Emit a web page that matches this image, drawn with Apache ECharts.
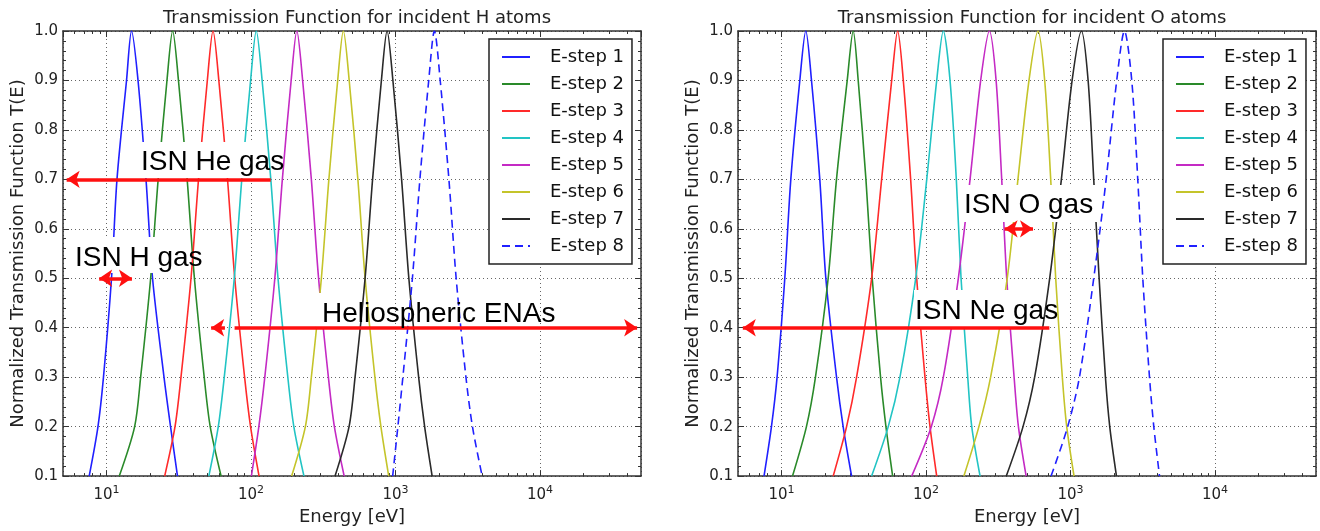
<!DOCTYPE html>
<html>
<head>
<meta charset="utf-8">
<script src="https://cdn.jsdelivr.net/npm/echarts@6/dist/echarts.min.js"></script>
<style>
  html, body { margin: 0; padding: 0; background: #fff; }
  #chart { width: 1320px; height: 531px; }
</style>
</head>
<body>
<div id="chart"></div>
<script>
// transmission levels shared by every curve (rise, peak, fall)
var tLevels = [0.1, 0.2, 0.3, 0.5, 0.7, 0.9, 1.0, 0.9, 0.7, 0.5, 0.3, 0.2, 0.1];

// energies [eV] where each E-step curve crosses tLevels, incident H atoms
var hStep1 = [7.59, 8.73, 9.53, 10.83, 11.82, 13.76, 14.9, 16.53, 18.77, 20.83, 25.0, 27.75, 31.0];
var hStep2 = [12.26, 15.66, 17.23, 20.21, 22.78, 26.21, 28.7, 31.48, 36.16, 40.58, 47.44, 52.21, 62.1];
var hStep3 = [25.27, 29.79, 32.77, 38.45, 43.33, 49.86, 54.6, 59.9, 68.8, 77.2, 90.3, 99.3, 113.7];
var hStep4 = [51.08, 59.36, 65.31, 76.62, 86.35, 99.36, 108.8, 119.4, 137.1, 153.8, 179.8, 197.9, 232.5];
var hStep5 = [100.6, 113.3, 124.6, 146.2, 164.8, 189.6, 207.6, 227.7, 261.6, 293.5, 343.2, 377.6, 441.4];
var hStep6 = [191.1, 237.8, 261.6, 306.9, 345.9, 398.0, 435.8, 478.1, 549.1, 616.2, 720.4, 792.7, 897.7];
var hStep7 = [381.6, 477.1, 525.0, 615.9, 694.1, 798.7, 874.6, 959.4, 1102, 1237, 1446, 1591, 1793];
var hStep8 = [955.8, 1038.5, 1124.6, 1309, 1475, 1698, 1859, 2039, 2342, 2629, 3073, 3408, 3978];

// same for incident O atoms
var oStep1 = [7.57, 8.52, 9.32, 10.54, 11.60, 13.39, 14.73, 16.13, 18.41, 20.27, 24.04, 26.71, 30.55];
var oStep2 = [11.92, 14.88, 17.18, 21.04, 24.02, 28.5, 31.35, 33.95, 38.40, 42.45, 48.47, 52.82, 58.78];
var oStep3 = [22.79, 28.21, 33.09, 42.05, 49.32, 57.88, 63.67, 69.65, 78.31, 86.21, 98.43, 106.6, 118.6];
var oStep4 = [42.04, 54.8, 66.03, 84.87, 101.2, 118.6, 131.8, 146.7, 162.1, 174.8, 194.5, 207.3, 236.7];
var oStep5 = [79.6, 108.8, 131.8, 167.4, 201.8, 239.0, 274.6, 305.6, 334.2, 361.9, 407.2, 436.1, 493.2];
var oStep6 = [182.9, 232.3, 280.0, 364.9, 432.8, 516.1, 595.6, 662.9, 729.6, 789.8, 877.9, 941.6, 1058];
var oStep7 = [359.5, 469.4, 564.8, 717.7, 864.8, 1026, 1190, 1324, 1448, 1578, 1745, 1869, 2080];
var oStep8 = [733.6, 956.3, 1153, 1448, 1765, 2089, 2363, 2654, 2921, 3164, 3521, 3771, 4131];

var stepNames = ['E-step 1', 'E-step 2', 'E-step 3', 'E-step 4', 'E-step 5', 'E-step 6', 'E-step 7', 'E-step 8'];
var stepColors = ['#2020ff', '#2a8a2a', '#ff2a2a', '#22c4c4', '#c42ac4', '#c4c42a', '#2a2a2a', '#2020ff'];

// x axis tick values
var minorTicksE = [6, 7, 8, 9, 20, 30, 40, 50, 60, 70, 80, 90, 200, 300, 400, 500, 600, 700, 800, 900,
  2000, 3000, 4000, 5000, 6000, 7000, 8000, 9000, 20000, 30000, 40000];

// annotation arrows [from, to] in (energy, T)
var heArrow = [[137, 0.7], [5.3, 0.7]];
var hArrow = [[8.9, 0.5], [15.0, 0.5]];
var helioArrowL = [[66, 0.4], [53, 0.4]];
var helioArrowR = [[77, 0.4], [47000, 0.4]];
var oArrow = [[350, 0.6], [550, 0.6]];
var neArrow = [[714, 0.4], [5.4, 0.4]];

var font = 'DejaVu Sans';
var gridColor = '#666';
var spine = '#333';

function pairs(es) {
  var out = [];
  for (var i = 0; i < es.length; i++) out.push([es[i], tLevels[i]]);
  return out;
}

function xAxes(gi) {
  var base = { type: 'log', logBase: 10, min: 5, max: 50000, gridIndex: gi };
  return [
    Object.assign({}, base, {
      position: 'bottom',
      name: 'Energy [eV]', nameLocation: 'middle', nameGap: 30,
      nameTextStyle: { fontFamily: font, fontSize: 18, color: '#222' },
      axisLine: { lineStyle: { color: spine, width: 1.5 } },
      axisTick: { inside: true, length: 6, lineStyle: { color: spine } },
      splitLine: { show: true, lineStyle: { color: gridColor, type: [1, 3], width: 1 } },
      axisLabel: {
        margin: 9, showMinLabel: false, showMaxLabel: false,
        formatter: function (v) {
          var e = Math.round(Math.log10(v));
          if (Math.abs(Math.log10(v) - e) > 1e-6) return '';
          return '{b|10}{s|' + e + '}';
        },
        rich: {
          b: { fontFamily: font, fontSize: 15, color: '#222', verticalAlign: 'bottom', lineHeight: 18 },
          s: { fontFamily: font, fontSize: 11, color: '#222', verticalAlign: 'top', lineHeight: 18 }
        }
      }
    }),
    Object.assign({}, base, {
      position: 'top',
      axisLine: { lineStyle: { color: spine, width: 1.5 } },
      axisTick: { inside: true, length: 6, lineStyle: { color: spine } },
      axisLabel: { show: false }, splitLine: { show: false }
    }),
    Object.assign({}, base, {
      position: 'bottom',
      axisLine: { show: false },
      axisTick: { inside: true, length: 3, customValues: minorTicksE, lineStyle: { color: spine } },
      axisLabel: { show: false }, splitLine: { show: false }
    }),
    Object.assign({}, base, {
      position: 'top',
      axisLine: { show: false },
      axisTick: { inside: true, length: 3, customValues: minorTicksE, lineStyle: { color: spine } },
      axisLabel: { show: false }, splitLine: { show: false }
    })
  ];
}

function yAxes(gi) {
  var base = { type: 'value', min: 0.1, max: 1.0, interval: 0.1, gridIndex: gi };
  return [
    Object.assign({}, base, {
      position: 'left',
      name: 'Normalized Transmission Function T(E)', nameLocation: 'middle', nameGap: 36,
      nameTextStyle: { fontFamily: font, fontSize: 18, color: '#222' },
      axisLine: { show: true, lineStyle: { color: spine, width: 1.5 } },
      axisTick: { show: true, inside: true, length: 6, lineStyle: { color: spine } },
      minorTick: { show: true, splitNumber: 5, length: 3, lineStyle: { color: spine } },
      splitLine: { show: true, lineStyle: { color: gridColor, type: [1, 3], width: 1 } },
      axisLabel: { margin: 5, fontFamily: font, fontSize: 15, color: '#222',
        formatter: function (v) { return v.toFixed(1); } }
    }),
    Object.assign({}, base, {
      position: 'right',
      axisLine: { show: true, lineStyle: { color: spine, width: 1.5 } },
      axisTick: { show: true, inside: true, length: 6, lineStyle: { color: spine } },
      minorTick: { show: true, splitNumber: 5, length: 3, lineStyle: { color: spine } },
      splitLine: { show: false },
      axisLabel: { show: false }
    })
  ];
}

var hSets = [hStep1, hStep2, hStep3, hStep4, hStep5, hStep6, hStep7, hStep8];
var oSets = [oStep1, oStep2, oStep3, oStep4, oStep5, oStep6, oStep7, oStep8];

var series = [];
function addCurves(sets, xi, yi) {
  for (var i = 0; i < sets.length; i++) {
    series.push({
      name: stepNames[i],
      type: 'line',
      xAxisIndex: xi, yAxisIndex: yi,
      symbol: 'none',
      smooth: 0.3,
      z: 2,
      silent: true,
      color: stepColors[i],
      lineStyle: { width: 1.6, color: stepColors[i], type: i === 7 ? [8, 5] : 'solid' },
      data: pairs(sets[i])
    });
  }
}
addCurves(hSets, 0, 0);
addCurves(oSets, 4, 2);

function arrowLine(a, both) {
  return [
    { coord: a[0], symbol: both ? 'arrow' : 'none' },
    { coord: a[1], symbol: 'arrow' }
  ];
}
var arrowStyle = { color: '#ff1010', width: 3.5, type: 'solid' };

series.push({
  name: 'arrowsH', type: 'line', xAxisIndex: 0, yAxisIndex: 0, data: [], z: 10, silent: true,
  markLine: {
    silent: true, symbolSize: [13, 13], lineStyle: arrowStyle, label: { show: false },
    data: [arrowLine(heArrow, false), arrowLine(hArrow, true), arrowLine(helioArrowL, false), arrowLine(helioArrowR, false)]
  }
});
series.push({
  name: 'arrowsO', type: 'line', xAxisIndex: 4, yAxisIndex: 2, data: [], z: 10, silent: true,
  markLine: {
    silent: true, symbolSize: [13, 13], lineStyle: arrowStyle, label: { show: false },
    data: [arrowLine(oArrow, true), arrowLine(neArrow, false)]
  }
});

function legendAt(left) {
  return {
    data: stepNames, orient: 'vertical', left: left, top: 39,
    itemWidth: 28, itemHeight: 14, itemGap: 9,
    padding: [9, 8, 9, 12],
    borderColor: '#222', borderWidth: 1.5, backgroundColor: '#fff',
    selectedMode: false,
    itemStyle: { opacity: 0 },
    textStyle: { fontFamily: font, fontSize: 18, color: '#111', padding: [0, 0, 0, 15] }
  };
}

function box(x, y, w, h) {
  return { type: 'rect', z: 5, silent: true, shape: { x: x, y: y, width: w, height: h }, style: { fill: '#fff' } };
}
function note(x, y, text) {
  return { type: 'text', z: 6, silent: true, x: x, y: y,
    style: { text: text, fontFamily: 'Liberation Sans', fontSize: 28, fill: '#000', verticalAlign: 'middle' } };
}

var option = {
  animation: false,
  backgroundColor: '#fff',
  title: [
    { text: 'Transmission Function for incident H atoms', left: 352, top: 4, textAlign: 'center',
      textStyle: { fontFamily: font, fontSize: 18, fontWeight: 'normal', color: '#222' } },
    { text: 'Transmission Function for incident O atoms', left: 1027, top: 4, textAlign: 'center',
      textStyle: { fontFamily: font, fontSize: 18, fontWeight: 'normal', color: '#222' } }
  ],
  grid: [
    { left: 63, top: 31, width: 578, height: 447 },
    { left: 738, top: 31, width: 578, height: 448 }
  ],
  xAxis: xAxes(0).concat(xAxes(1)),
  yAxis: yAxes(0).concat(yAxes(1)),
  legend: [legendAt(489), legendAt(1163)],
  series: series,
  graphic: [
    box(123, 142, 138, 36), note(141, 162, 'ISN He gas'),
    box(68, 237, 104, 36), note(75, 258, 'ISN H gas'),
    box(316, 293, 18, 34), note(322, 314, 'Heliospheric ENAs'),
    box(963, 185, 134, 37), note(964, 205, 'ISN O gas'),
    box(914, 290, 128, 37), note(915, 311, 'ISN Ne gas')
  ]
};

var chart = echarts.init(document.getElementById('chart'));
chart.setOption(option);
</script>
</body>
</html>
